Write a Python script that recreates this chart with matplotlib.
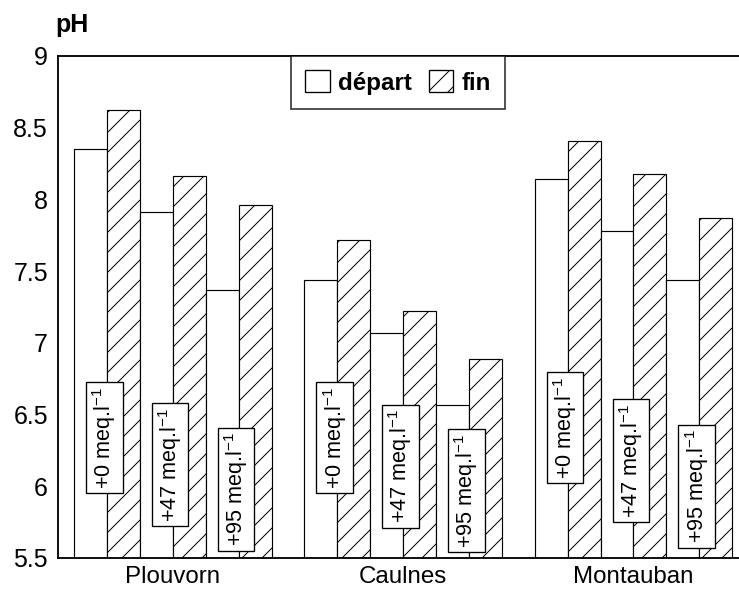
import matplotlib
matplotlib.use("Agg")
import matplotlib.pyplot as plt
import matplotlib.patches as mpatches

# données
sites = ["Plouvorn", "Caulnes", "Montauban"]
doses = ["+0", "+47", "+95"]
ph_depart = [
    [8.35, 7.91, 7.37],   # Plouvorn
    [7.44, 7.07, 6.57],   # Caulnes
    [8.14, 7.78, 7.44],   # Montauban
]
ph_fin = [
    [8.62, 8.16, 7.96],
    [7.72, 7.22, 6.89],
    [8.41, 8.18, 7.87],
]
yticks = [5.5, 6, 6.5, 7, 7.5, 8, 8.5, 9]
ytick_labels = ["5.5", "6", "6.5", "7", "7.5", "8", "8.5", "9"]

# hauteur des étiquettes (centre de la boîte), par site et par dose
label_y = [
    [6.34, 6.15, 5.98],
    [6.34, 6.14, 5.97],
    [6.41, 6.18, 6.00],
]

plt.rcParams["font.family"] = ["Liberation Sans", "DejaVu Sans"]
plt.rcParams["mathtext.default"] = "regular"
plt.rcParams["hatch.linewidth"] = 0.6

DPI = 120
fig = plt.figure(figsize=(739 / DPI, 595 / DPI), dpi=DPI)
ax = fig.add_axes([0.0785, 0.0622, 0.93, 0.8437])

group_pitch = 7  # 6 barres + 1 espace
for g, site in enumerate(sites):
    for i, dose in enumerate(doses):
        x0 = g * group_pitch + i * 2
        ax.bar(x0, ph_depart[g][i] - 5.5, bottom=5.5, width=1, align="edge",
               facecolor="white", edgecolor="black", linewidth=0.7)
        ax.bar(x0 + 1, ph_fin[g][i] - 5.5, bottom=5.5, width=1, align="edge",
               facecolor="white", edgecolor="black", linewidth=0.7,
               hatch="//")
        ax.text(x0 + 0.92, label_y[g][i],
                dose + r" meq.l$^{-1}$",
                rotation=90, ha="center", va="center", fontsize=13,
                bbox=dict(boxstyle="square,pad=0.2", facecolor="white",
                          edgecolor="black", linewidth=0.8),
                zorder=5)

ax.set_xlim(-0.49, 20.4)
ax.set_ylim(5.5, 9)
ax.set_yticks(yticks)
ax.set_yticklabels(ytick_labels)
ax.set_xticks([g * group_pitch + 3 for g in range(len(sites))])
ax.set_xticklabels(sites)
ax.tick_params(axis="y", length=0, labelsize=15, pad=6)
ax.tick_params(axis="x", length=0, labelsize=14.5, pad=5)
ax.spines["right"].set_visible(False)
for s in ["left", "top", "bottom"]:
    ax.spines[s].set_linewidth(1.1)

handles = [
    mpatches.Patch(facecolor="white", edgecolor="black", linewidth=0.8,
                   label="départ"),
    mpatches.Patch(facecolor="white", edgecolor="black", linewidth=0.8,
                   hatch="//", label="fin"),
]
leg = ax.legend(handles=handles, loc="upper left",
                bbox_to_anchor=(0.339, 1.0), ncol=2, frameon=True,
                fancybox=False, borderaxespad=0, handlelength=1.0,
                handleheight=1.0, handletextpad=0.35, columnspacing=0.7,
                borderpad=0.6, prop={"weight": "bold", "size": 14.5})
leg.get_frame().set_edgecolor("black")
leg.get_frame().set_linewidth(1.0)

fig.text(0.0744, 1 - 32 / 595, "pH", fontsize=15, fontweight="bold",
         ha="left", va="baseline")

fig.savefig("out.png", dpi=DPI)
